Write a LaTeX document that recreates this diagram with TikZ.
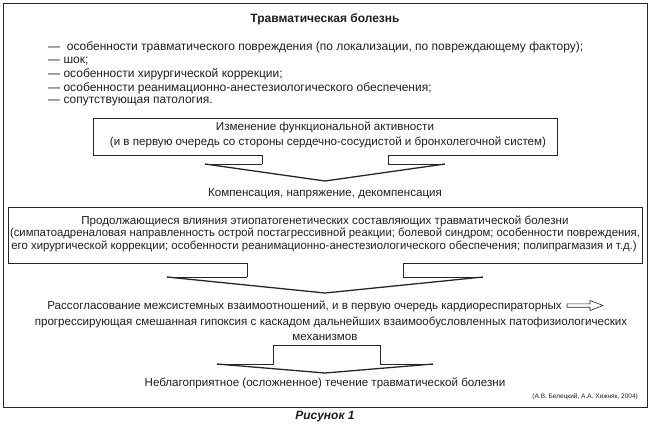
\documentclass[tikz,border=0pt]{standalone}
\usepackage{fontspec}
\setmainfont{Liberation Sans}
\begin{document}
\begin{tikzpicture}[x=1pt,y=-1pt,
  txt/.style={font=\fontsize{11.6}{13}\selectfont, inner sep=0pt, text=black!88},
  toptxt/.style={font=\fontsize{12}{13.5}\selectfont, inner sep=0pt, text=black!88},
  small/.style={font=\fontsize{6.5}{8}\selectfont, inner sep=0pt, text=black!88},
  frm/.style={draw=black!85, line width=0.9pt},
  shp/.style={draw=black!85, line width=0.7pt},
  headln/.style={draw=black!85, line width=1.3pt, line join=miter}]
\useasboundingbox (0,0) rectangle (650,426);
% outer frame
\coordinate (fnw) at (3,3);
\coordinate (fse) at (647,407);
\draw[frm] (fnw) rectangle (fse);
% title and list
\node[toptxt, font=\fontsize{12}{13.5}\selectfont\bfseries] (title) at (325,19) {Травматическая болезнь};
\node[toptxt, anchor=west] (l1) at (48,47.5) {—\ \ особенности травматического повреждения (по локализации, по повреждающему фактору);};
\node[toptxt, anchor=west] (l2) at (48,61) {— шок;};
\node[toptxt, anchor=west] (l3) at (48,74.5) {— особенности хирургической коррекции;};
\node[toptxt, anchor=west] (l4) at (48,88) {— особенности реанимационно-анестезиологического обеспечения;};
\node[toptxt, anchor=west] (l5) at (48,101.5) {— сопутствующая патология.};
% box 1 with arrow
\draw[shp] (262,164) -- (262,155) -- (93,155) -- (93,118) -- (557,118) -- (557,155) -- (388,155) -- (388,164) -- (445,164);
\draw[shp] (262,164) -- (205,164);
\coordinate (a1l) at (205,164);
\coordinate (a1t) at (325,181);
\coordinate (a1r) at (445,164);
\draw[headln] (a1l) -- (a1t) -- (a1r);
\node[txt] (b1a) at (325,127.5) {Изменение функциональной активности};
\node[txt] (b1b) at (328,142) {(и в первую очередь со стороны сердечно-сосудистой и бронхолегочной систем)};
\node[txt] (comp) at (325,194) {Компенсация, напряжение, декомпенсация};
% box 2 with arrow
\draw[shp] (247,277) -- (247,263) -- (8,263) -- (8,207) -- (642,207) -- (642,263) -- (403,263) -- (403,277) -- (483,277);
\draw[shp] (247,277) -- (167,277);
\coordinate (a2l) at (167,277);
\coordinate (a2t) at (325,293);
\coordinate (a2r) at (483,277);
\draw[headln] (a2l) -- (a2t) -- (a2r);
\node[txt] (b2a) at (325,221) {Продолжающиеся влияния этиопатогенетических составляющих травматической болезни};
\node[txt] (b2b) at (325,233.5) {\scalebox{0.975}[1]{(симпатоадреналовая направленность острой постагрессивной реакции; болевой синдром; особенности повреждения,}};
\node[txt] (b2c) at (324,246) {\scalebox{0.98}[1]{его хирургической коррекции; особенности реанимационно-анестезиологического обеспечения; полипрагмазия и т.д.)}};
% mismatch text
\node[txt, anchor=east] (r1) at (562,306) {Рассогласование межсистемных взаимоотношений, и в первую очередь кардиореспираторных};
\draw[shp, line width=0.6pt] (567,303.8) -- (590,303.8) -- (590,300.5) -- (603,305.5) -- (590,310.5) -- (590,307.2) -- (567,307.2) -- cycle;
\node[txt] (r2) at (331,322) {прогрессирующая смешанная гипоксия с каскадом дальнейших взаимообусловленных патофизиологических};
\node[txt] (r3) at (325,337) {механизмов};
% arrow 3
\draw[shp] (217,364) -- (273,364) -- (273,345) -- (380,345) -- (380,364) -- (433,364);
\coordinate (a3l) at (217,364);
\coordinate (a3t) at (325,373);
\coordinate (a3r) at (433,364);
\draw[headln] (a3l) -- (a3t) -- (a3r);
\node[txt] (res) at (325,383) {Неблагоприятное (осложненное) течение травматической болезни};
\node[small, anchor=east] (cite) at (638,396.5) {(А.В. Белецкий, А.А. Хижняк, 2004)};
\node[toptxt, font=\fontsize{12}{13.5}\selectfont\bfseries\itshape] (cap) at (325,416.5) {Рисунок 1};
\end{tikzpicture}
\end{document}
